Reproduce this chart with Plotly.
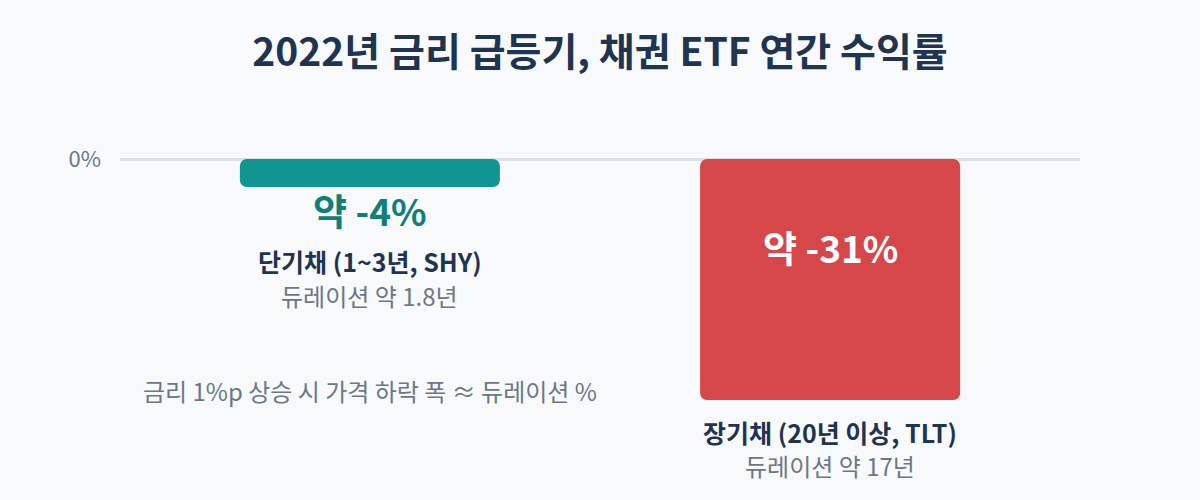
import plotly.graph_objects as go

# data
categories = ["단기채 (1~3년, SHY)", "장기채 (20년 이상, TLT)"]
returns = [-3.6, -31.0]
value_labels = ["약 -4%", "약 -31%"]
duration_labels = ["듀레이션 약 1.8년", "듀레이션 약 17년"]
bar_colors = ["#109593", "#d54748"]
value_label_colors = ["#0f7f78", "#ffffff"]
note_text = "금리 1%p 상승 시 가격 하락 폭 ≈ 듀레이션 %"
title_text = "2022년 금리 급등기, 채권 ETF 연간 수익률"

FONT = "Noto Sans CJK KR, Noto Sans, sans-serif"
NAVY = "#1e3450"
GREY = "#6b7785"
BG = "#f8f9fb"

fig = go.Figure()

fig.add_trace(go.Bar(
    x=categories, y=returns, base=[0] * len(returns),
    marker=dict(color=bar_colors, cornerradius=7, line_width=0),
    width=0.565, hoverinfo="skip", showlegend=False,
))

# labels: SHY value sits under the bar, TLT value sits inside the bar
annots = []
# short bond
annots.append(dict(x=categories[0], y=returns[0], yshift=-23, text=f"<b>{value_labels[0]}</b>",
                   font=dict(size=37, color=value_label_colors[0])))
annots.append(dict(x=categories[0], y=returns[0], yshift=-74, text=f"<b>{categories[0]}</b>",
                   font=dict(size=25, color=NAVY)))
annots.append(dict(x=categories[0], y=returns[0], yshift=-109, text=duration_labels[0],
                   font=dict(size=24, color=GREY)))
# long bond
annots.append(dict(x=categories[1], y=0, yshift=-88, text=f"<b>{value_labels[1]}</b>",
                   font=dict(size=37, color=value_label_colors[1])))
annots.append(dict(x=categories[1], y=returns[1], yshift=-32, text=f"<b>{categories[1]}</b>",
                   font=dict(size=25, color=NAVY)))
annots.append(dict(x=categories[1], y=returns[1], yshift=-66, text=duration_labels[1],
                   font=dict(size=24, color=GREY)))
# note
annots.append(dict(x=categories[0], y=0, yshift=-231, text=note_text,
                   font=dict(size=24, color=GREY)))

for a in annots:
    a.update(showarrow=False, xanchor="center", yanchor="middle")

fig.update_layout(
    width=1200, height=500,
    margin=dict(l=120, r=120, t=100, b=0),
    paper_bgcolor=BG, plot_bgcolor=BG,
    font=dict(family=FONT),
    title=dict(text=f"<b>{title_text}</b>", x=0.5, xanchor="center", y=0.896, yanchor="middle",
               font=dict(size=39, color=NAVY, family=FONT)),
    xaxis=dict(range=[-0.543, 1.543], showticklabels=False, showgrid=False,
               zeroline=False, showline=False, fixedrange=True),
    yaxis=dict(range=[-43.87, 7.59], tickvals=[0], ticktext=["0%"], showgrid=False,
               zeroline=True, zerolinecolor="#dde1e6", zerolinewidth=3,
               tickfont=dict(size=22, color=GREY), ticks="", ticklabelstandoff=18,
               showline=False, fixedrange=True),
    annotations=annots,
)

# drop the default page margin so the figure sits at the window's corner
fig.write_html("out.html", config={"displayModeBar": False},
               post_script="document.body.style.margin='0';")
